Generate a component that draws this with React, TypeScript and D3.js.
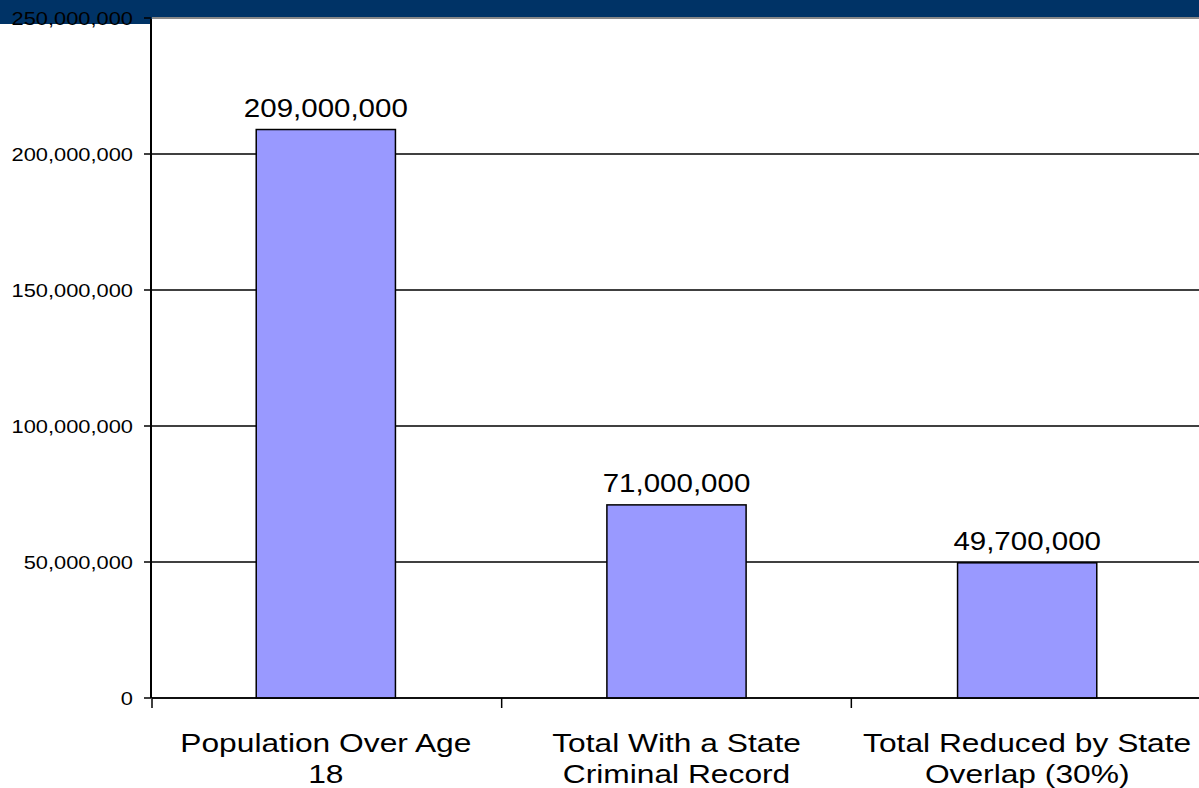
import React from "react";
import * as d3 from "d3";

const categories: string[][] = [
  ["Population Over Age", "18"],
  ["Total With a State", "Criminal Record"],
  ["Total Reduced by State", "Overlap (30%)"],
];
const values: number[] = [209000000, 71000000, 49700000];
const valueLabels: string[] = ["209,000,000", "71,000,000", "49,700,000"];
const yTicks: number[] = [0, 50000000, 100000000, 150000000, 200000000, 250000000];

const W = 1199;
const H = 788;
const left = 152;
const right = 1201;
const top = 18;
const bottom = 698;

export default function App() {
  const x = d3
    .scaleBand<number>()
    .domain(categories.map((_, i) => i))
    .range([left, right])
    .paddingInner(0.603)
    .paddingOuter(0.3015);
  const xb = d3
    .scaleBand<number>()
    .domain(categories.map((_, i) => i))
    .range([left - 1.5, right + 1.5])
    .paddingInner(0.603)
    .paddingOuter(0.3015);
  const y = d3.scaleLinear().domain([0, 250000000]).range([bottom, top]);
  const fmt = d3.format(",");
  const step = x.step();
  const font = "'Liberation Sans', Arial, sans-serif";

  return (
    <svg
      width={W}
      height={H}
      style={{ position: "absolute", left: 0, top: 0, background: "#fff" }}
    >
      <rect x={0} y={0} width={W} height={24} fill="#003366" />
      <rect x={left} y={17} width={W - left} height={bottom - 17} fill="#fff" />
      {yTicks.map((t) => (
        <line
          key={"g" + t}
          x1={left}
          x2={W}
          y1={y(t)}
          y2={y(t)}
          stroke={t === 250000000 ? "#888" : "#000"}
          strokeWidth={t === 250000000 ? 2 : 1.5}
        />
      ))}
      {values.map((v, i) => (
        <rect
          key={"b" + i}
          x={xb(i)!}
          y={y(v)}
          width={xb.bandwidth()}
          height={y(0) - y(v)}
          fill="#9999FF"
          stroke="#000"
          strokeWidth={1.5}
        />
      ))}
      <line x1={151} x2={151} y1={19} y2={bottom} stroke="#000" strokeWidth={2} />
      {yTicks.map((t) => (
        <g key={"t" + t}>
          <line x1={144} x2={151} y1={y(t)} y2={y(t)} stroke="#000" strokeWidth={1.5} />
          <g transform={`translate(133,${y(t) + 7}) scale(1.15,1)`}>
            <text textAnchor="end" fontFamily={font} fontSize={19} fill="#000">
              {fmt(t)}
            </text>
          </g>
        </g>
      ))}
      <line x1={left} x2={W} y1={bottom} y2={bottom} stroke="#000" strokeWidth={1.5} />
      {categories.map((_, i) => (
        <line
          key={"xt" + i}
          x1={left + step * i}
          x2={left + step * i}
          y1={bottom}
          y2={bottom + 10}
          stroke="#000"
          strokeWidth={1.5}
        />
      ))}
      {values.map((v, i) => (
        <g
          key={"v" + i}
          transform={`translate(${xb(i)! + xb.bandwidth() / 2},${y(v) - 12.5}) scale(1.18,1)`}
        >
          <text textAnchor="middle" fontFamily={font} fontSize={25} fill="#000">
            {valueLabels[i]}
          </text>
        </g>
      ))}
      {categories.map((lines, i) =>
        lines.map((ln, j) => (
          <g
            key={"c" + i + "-" + j}
            transform={`translate(${xb(i)! + xb.bandwidth() / 2},${752 + j * 31}) scale(1.27,1)`}
          >
            <text textAnchor="middle" fontFamily={font} fontSize={25} fill="#000">
              {ln}
            </text>
          </g>
        ))
      )}
    </svg>
  );
}
